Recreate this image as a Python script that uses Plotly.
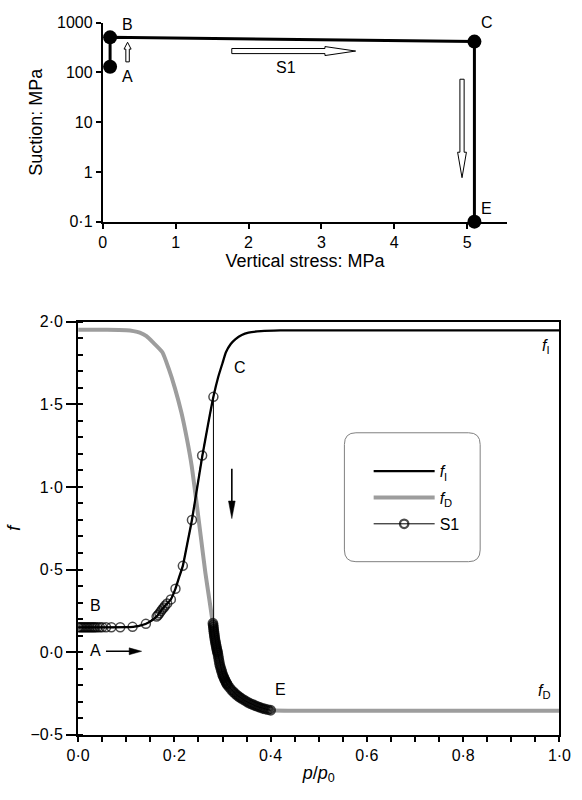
import numpy as np
import plotly.graph_objects as go

W, H = 582, 800
FONT = "Liberation Sans, Arial, Helvetica, sans-serif"

# ---------------- Top chart: stress path ----------------
point_names = ["A", "B", "C", "E"]
vertical_stress = [0.1, 0.1, 5.1, 5.1]
suction = [130, 507, 417, 0.1]
top_xticks = [0, 1, 2, 3, 4, 5]
top_yticks = [0.1, 1, 10, 100, 1000]
top_yticktext = ["0·1", "1", "10", "100", "1000"]

# ---------------- Bottom chart ----------------
fI_p = [0.0, 0.05, 0.10, 0.125, 0.14, 0.155, 0.165, 0.172, 0.181, 0.1926, 0.2022, 0.21, 0.2175,
        0.227, 0.2364, 0.247, 0.2576, 0.27, 0.281, 0.291, 0.30, 0.307, 0.317, 0.327, 0.34, 0.354,
        0.38, 0.42, 1.0]
fI_f = [0.15, 0.15, 0.151, 0.158, 0.17, 0.195, 0.222, 0.25, 0.282, 0.319, 0.384, 0.455, 0.522,
        0.66, 0.80, 0.99, 1.18, 1.38, 1.545, 1.665, 1.75, 1.815, 1.865, 1.895, 1.92, 1.934,
        1.943, 1.947, 1.947]

fD_p = [0.0, 0.06, 0.10, 0.115, 0.128, 0.142, 0.155, 0.175, 0.188, 0.201, 0.2145, 0.226, 0.2357,
        0.2444, 0.2548, 0.2643, 0.272, 0.2795, 0.2841, 0.2896, 0.2941, 0.300, 0.306, 0.3106,
        0.318, 0.326, 0.334, 0.343, 0.352, 0.3603, 0.37, 0.38, 0.39, 0.40, 0.45, 1.0]
fD_f = [1.951, 1.951, 1.948, 1.943, 1.934, 1.912, 1.876, 1.815, 1.717, 1.598, 1.45, 1.29, 1.13,
        0.94, 0.70, 0.48, 0.33, 0.18, 0.075, 0.0, -0.075, -0.135, -0.175, -0.20,
        -0.228, -0.252, -0.27, -0.287, -0.302, -0.315, -0.326, -0.336, -0.345, -0.352, -0.355, -0.355]

s1_p = [0.0, 0.003, 0.006, 0.009, 0.012, 0.015, 0.018, 0.021, 0.024, 0.027, 0.030, 0.033, 0.036,
        0.040, 0.045, 0.050, 0.058, 0.069, 0.0874, 0.113, 0.1407, 0.163, 0.166, 0.169, 0.172,
        0.175, 0.178, 0.181, 0.185, 0.1926, 0.2022, 0.2175, 0.2364, 0.2576, 0.281,
        0.2800, 0.2805, 0.2810, 0.2815, 0.2820, 0.2826, 0.2832, 0.2838, 0.2845, 0.2852, 0.2860,
        0.2868, 0.2876, 0.2884, 0.2892, 0.2900, 0.2910, 0.2920, 0.2930, 0.2941,
        0.2955, 0.2970, 0.2985, 0.3000, 0.3015, 0.3030, 0.3045, 0.3060, 0.3075, 0.3090, 0.3106,
        0.3145, 0.3185, 0.3225, 0.3265, 0.3305, 0.3345, 0.3385, 0.3430,
        0.3480, 0.3530, 0.3580, 0.3630, 0.3680, 0.3730, 0.3780, 0.3830, 0.3880, 0.3940, 0.4000]
s1_f = [0.15, 0.15, 0.15, 0.15, 0.15, 0.15, 0.15, 0.15, 0.15, 0.15, 0.15, 0.15, 0.15,
        0.15, 0.15, 0.15, 0.15, 0.15, 0.151, 0.153, 0.171, 0.215, 0.225, 0.235, 0.248,
        0.26, 0.27, 0.282, 0.295, 0.319, 0.384, 0.522, 0.80, 1.19, 1.545,
        0.175, 0.162, 0.150, 0.137, 0.124, 0.111, 0.098, 0.085, 0.072, 0.060, 0.048,
        0.036, 0.024, 0.013, 0.003, -0.007, -0.023, -0.040, -0.057, -0.075,
        -0.090, -0.105, -0.120, -0.135, -0.146, -0.156, -0.166, -0.175, -0.184, -0.192, -0.200,
        -0.214, -0.229, -0.241, -0.252, -0.262, -0.271, -0.279, -0.287,
        -0.296, -0.304, -0.312, -0.318, -0.324, -0.330, -0.335, -0.340, -0.344, -0.348, -0.352]

bot_xticks = [0.0, 0.2, 0.4, 0.6, 0.8, 1.0]
bot_xticktext = ["0·0", "0·2", "0·4", "0·6", "0·8", "1·0"]
bot_yticks = [-0.5, 0.0, 0.5, 1.0, 1.5, 2.0]
bot_yticktext = ["−0·5", "0·0", "0·5", "1·0", "1·5", "2·0"]

# ---------------- layout geometry (pixels) ----------------
TOP_X = (94.7, 516.5)      # px of top x-axis range
TOP_Y = (15.0, 218.3)      # px of 1000 and 0.1
TOP_XR = [0, 5.55]
BOT_X = (69.0, 571.0)
BOT_Y = (320.5, 742.5)


def top_px(x):
    return TOP_X[0] + (x - TOP_XR[0]) / (TOP_XR[1] - TOP_XR[0]) * (TOP_X[1] - TOP_X[0])


def top_py(s):
    return TOP_Y[0] + (3 - np.log10(s)) / 4 * (TOP_Y[1] - TOP_Y[0])


def P(px, py):
    return f"{px / W:.5f},{1 - py / H:.5f}"


def poly(pts):
    return "M" + " L".join(P(a, b) for a, b in pts) + " Z"


fig = go.Figure()

# top chart path
fig.add_trace(go.Scatter(
    x=vertical_stress, y=suction, mode="lines+markers", text=point_names,
    line=dict(color="black", width=3), marker=dict(size=14, color="black"),
    cliponaxis=False, showlegend=False, xaxis="x", yaxis="y"))

# bottom chart
fig.add_trace(go.Scatter(
    x=fD_p, y=fD_f, mode="lines", name="<i>f</i><sub>D</sub>", legendrank=2,
    line=dict(color="#9d9d9d", width=4, shape="spline", smoothing=0.5),
    xaxis="x2", yaxis="y2", legendgroup="b"))
fig.add_trace(go.Scatter(
    x=fI_p, y=fI_f, mode="lines", name="<i>f</i><sub>I</sub>", legendrank=1,
    line=dict(color="black", width=2.3, shape="spline", smoothing=0.5),
    xaxis="x2", yaxis="y2", legendgroup="a"))

# S1: circles along the unloading branch are packed so tightly they print as a solid band
in_band = [(i > 34) for i in range(len(s1_p))]
s1_sizes = [8 if b else 9 for b in in_band]
s1_lw = [2.8 if b else 1.5 for b in in_band]
fig.add_trace(go.Scatter(
    x=s1_p, y=s1_f, mode="lines+markers", name="S1", legendrank=3,
    line=dict(color="black", width=1),
    marker=dict(symbol="circle-open", size=s1_sizes, color="black", line=dict(width=s1_lw)),
    xaxis="x2", yaxis="y2", legendgroup="c"))

tickfont = dict(size=16, color="black", family=FONT)
titlefont = dict(size=18, color="black", family=FONT)

shapes = []


def hollow_h(x0, x1, s, half=2.6, headhalf=4.6, headlen=32):
    a, b, y = top_px(x0), top_px(x1), top_py(s)
    pts = [(a, y - half), (b - headlen, y - half), (b - headlen, y - headhalf), (b, y),
           (b - headlen, y + headhalf), (b - headlen, y + half), (a, y + half)]
    return dict(type="path", xref="paper", yref="paper", path=poly(pts),
                fillcolor="white", line=dict(color="black", width=1))


def hollow_v(x, s_tail, s_tip, half, headhalf, headlen):
    c, t0, t1 = top_px(x), top_py(s_tail), top_py(s_tip)
    d = 1 if t1 > t0 else -1
    hb = t1 - d * headlen
    pts = [(c - half, t0), (c - half, hb), (c - headhalf, hb), (c, t1),
           (c + headhalf, hb), (c + half, hb), (c + half, t0)]
    return dict(type="path", xref="paper", yref="paper", path=poly(pts),
                fillcolor="white", line=dict(color="black", width=1))


shapes.append(hollow_h(1.77, 3.47, 269))
shapes.append(hollow_v(0.34, 163, 404, 1.8, 3.7, 7))
shapes.append(hollow_v(4.93, 73, 0.766, 2.2, 4.6, 26))

px_per_p = BOT_X[1] - BOT_X[0]
px_per_f = (BOT_Y[1] - BOT_Y[0]) / 2.5


def solid_arrow(x0, y0, x1, y1, headlen_px, headhalf_px):
    if x0 == x1:
        d = np.sign(y1 - y0)
        hl = headlen_px / px_per_f
        hh = headhalf_px / px_per_p
        base = y1 - d * hl
        line = dict(type="line", xref="x2", yref="y2", x0=x0, y0=y0, x1=x0, y1=base + d * hl * 0.3,
                    line=dict(color="black", width=1.6))
        head = dict(type="path", xref="x2", yref="y2",
                    path=f"M{x0 - hh},{base} L{x0 + hh},{base} L{x1},{y1} Z",
                    fillcolor="black", line=dict(color="black", width=0.5))
    else:
        d = np.sign(x1 - x0)
        hl = headlen_px / px_per_p
        hh = headhalf_px / px_per_f
        base = x1 - d * hl
        line = dict(type="line", xref="x2", yref="y2", x0=x0, y0=y0, x1=base + d * hl * 0.3, y1=y0,
                    line=dict(color="black", width=1.6))
        head = dict(type="path", xref="x2", yref="y2",
                    path=f"M{base},{y0 - hh} L{base},{y0 + hh} L{x1},{y1} Z",
                    fillcolor="black", line=dict(color="black", width=0.5))
    return [line, head]


shapes += solid_arrow(0.0578, 0.005, 0.1319, 0.005, 13, 3.5)
shapes += solid_arrow(0.3193, 1.11, 0.3193, 0.808, 18, 3.5)

# rounded legend box
x0, x1, y0, y1, r = 346.7, 488.3, 434.0, 565.7, 12
box = (f"M{P(x0 + r, y0)} L{P(x1 - r, y0)} Q{P(x1, y0)} {P(x1, y0 + r)} "
       f"L{P(x1, y1 - r)} Q{P(x1, y1)} {P(x1 - r, y1)} L{P(x0 + r, y1)} "
       f"Q{P(x0, y1)} {P(x0, y1 - r)} L{P(x0, y0 + r)} Q{P(x0, y0)} {P(x0 + r, y0)} Z")
shapes.append(dict(type="path", xref="paper", yref="paper", path=box,
                   line=dict(color="#808080", width=1)))

ann = []


def lab(text, x, y, xref, yref, size=16):
    ann.append(dict(text=text, x=x, y=y, xref=xref, yref=yref, showarrow=False,
                    xanchor="center", yanchor="middle", font=dict(size=size, color="black", family=FONT)))


top_labels = [("B", 0.333, 926), ("A", 0.333, 82.6), ("C", 5.267, 1000), ("E", 5.267, 0.18),
              ("S1", 2.508, 126)]
for t, x, s in top_labels:
    lab(t, x, np.log10(s), "x", "y")

bot_labels = [("C", 0.336, 1.725), ("<i>f</i><sub>I</sub>", 0.973, 1.852), ("B", 0.037, 0.285),
              ("A", 0.037, 0.01), ("E", 0.421, -0.226), ("<i>f</i><sub>D</sub>", 0.969, -0.236)]
for t, x, y in bot_labels:
    lab(t, x, y, "x2", "y2")

fig.update_layout(
    width=W, height=H, autosize=False,
    margin=dict(l=0, r=0, t=0, b=0),
    paper_bgcolor="white", plot_bgcolor="white",
    font=dict(family=FONT, color="black", size=16),
    showlegend=True,
    legend=dict(x=372 / W, y=1 - 456 / H, xanchor="left", yanchor="top",
                bgcolor="rgba(0,0,0,0)", borderwidth=0, font=dict(size=16, family=FONT),
                itemwidth=61, tracegroupgap=2.5, traceorder="grouped"),
    xaxis=dict(domain=[TOP_X[0] / W, TOP_X[1] / W], anchor="y", range=TOP_XR,
               tickvals=top_xticks, showgrid=False, zeroline=False, showline=True,
               linecolor="black", linewidth=2, ticks="outside", ticklen=5, tickwidth=1.5,
               tickcolor="black", tickfont=tickfont, ticklabeloverflow="allow",
               title=dict(text="Vertical stress: MPa", font=titlefont, standoff=4)),
    yaxis=dict(domain=[1 - TOP_Y[1] / H, 1 - TOP_Y[0] / H], anchor="x", type="log",
               range=[-1, 3], tickvals=top_yticks, ticktext=top_yticktext, showgrid=False,
               zeroline=False, showline=True, linecolor="black", linewidth=2, ticks="outside",
               ticklen=5, tickwidth=1.5, tickcolor="black", tickfont=tickfont,
               ticklabeloverflow="allow",
               title=dict(text="Suction: MPa", font=titlefont, standoff=10)),
    xaxis2=dict(domain=[BOT_X[0] / W, BOT_X[1] / W], anchor="y2", range=[0, 1],
                tickvals=bot_xticks, ticktext=bot_xticktext, showgrid=False, zeroline=False,
                showline=True, mirror=True, linecolor="black", linewidth=2, ticks="outside",
                ticklen=5, tickwidth=1.5, tickcolor="black", tickfont=tickfont,
                ticklabeloverflow="allow",
                minor=dict(tickmode="linear", tick0=0, dtick=0.05, ticks="outside", ticklen=5,
                           tickwidth=1.5, tickcolor="black"),
                title=dict(text="<i>p</i>/<i>p</i><sub>0</sub>", font=titlefont, standoff=3)),
    yaxis2=dict(domain=[1 - BOT_Y[1] / H, 1 - BOT_Y[0] / H], anchor="x2", range=[-0.5, 2.0],
                tickvals=bot_yticks, ticktext=bot_yticktext, showgrid=False, zeroline=False,
                showline=True, mirror=True, linecolor="black", linewidth=2, ticks="outside",
                ticklen=10, tickwidth=1.5, tickcolor="black", tickfont=tickfont,
                ticklabeloverflow="allow",
                minor=dict(tickmode="linear", tick0=0, dtick=0.1, ticks="inside", ticklen=5,
                           tickwidth=1.5, tickcolor="black"),
                title=dict(text="<i>f</i>", font=titlefont, standoff=5)),
    shapes=shapes,
    annotations=ann,
)

fig.write_html("out.html")
